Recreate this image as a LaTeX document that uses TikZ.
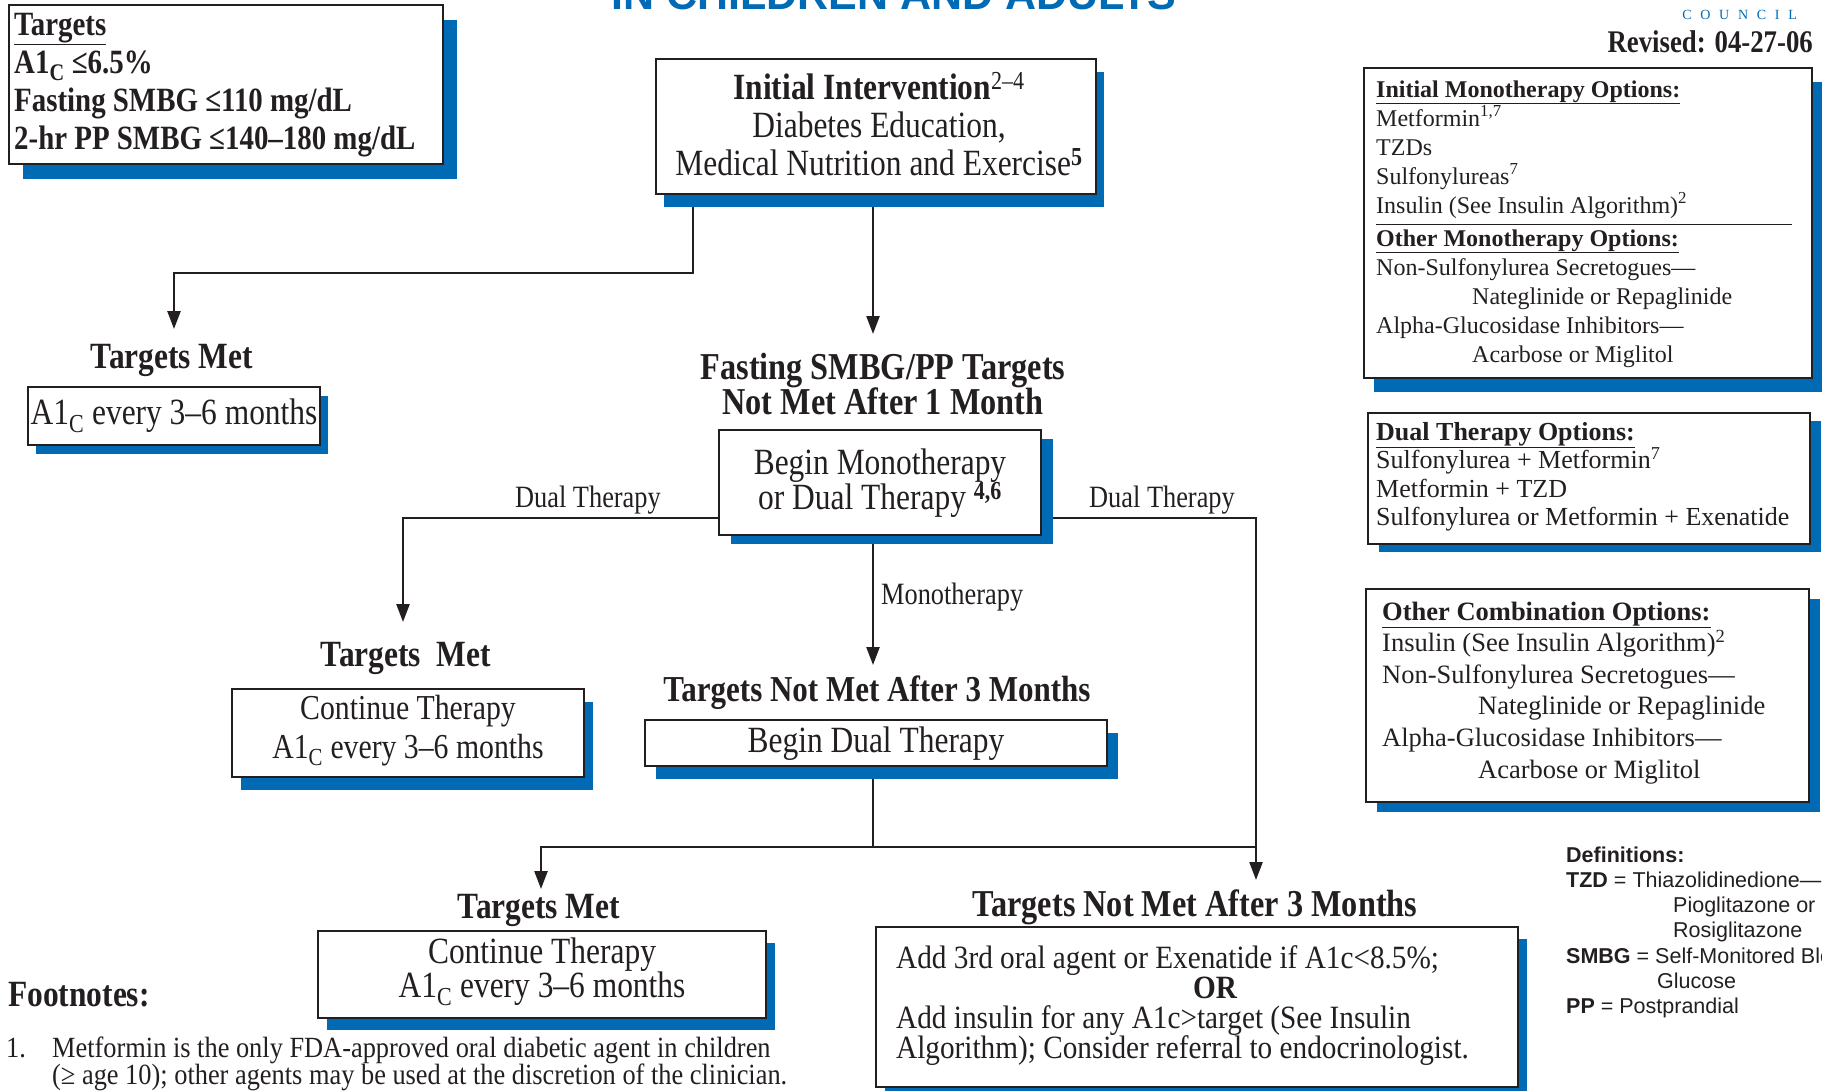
\documentclass[tikz,border=0pt]{standalone}
\usepackage{fontspec}
\setmainfont{Liberation Serif}
\setsansfont{Liberation Sans}
\newfontfamily\cnd[FakeStretch=0.85]{Liberation Serif}
\newfontfamily\cndw[FakeStretch=0.9]{Liberation Serif}
\usetikzlibrary{arrows.meta,shadows,calc}
\definecolor{ablue}{RGB}{0,106,180}
\definecolor{ink}{RGB}{35,31,32}
\newcommand\F[2]{\fontsize{#1}{#2}\selectfont}
\newcommand\Lft[1]{\vtop{\lineskiplimit=-100pt\halign{##\hfil\cr#1\crcr}}}
\newcommand\Ctr[1]{\vtop{\lineskiplimit=-100pt\halign{\hfil##\hfil\cr#1\crcr}}}
\pgfdeclarelayer{bg}
\pgfsetlayers{bg,main}
\begin{document}
\begin{tikzpicture}[x=1pt,y=-1pt,
  every node/.style={inner sep=0pt, text=ink},
  box/.style={draw=ink, line width=2.4pt, fill=white, inner sep=0pt},
  sh/.style 2 args={drop shadow={shadow xshift=#1pt, shadow yshift=-#2pt, fill=ablue, opacity=1}},
  arr/.style={draw=ink, line width=2.4pt, -{Triangle[length=18pt,width=13pt]}},
  ln/.style={draw=ink, line width=2.4pt},
  hd/.style={font=\cnd\bfseries\F{38}{35}, anchor=base},
  lbl/.style={font=\cnd\F{31}{31}, anchor=base}]
\useasboundingbox (0,0) rectangle (1822,1090);

% ---------- boxes ----------
\node[box, sh={14}{15}, minimum width=434pt, minimum height=159pt] (tgt) at (226,84.5) {};
\node[box, sh={8}{13}, minimum width=440pt, minimum height=135pt] (init) at (876,126.5) {};
\node[box, sh={8}{9}, minimum width=292pt, minimum height=58pt] (tm1b) at (174,416) {};
\node[box, sh={12}{9}, minimum width=322pt, minimum height=105pt] (bm) at (880,482.5) {};
\node[box, sh={9}{13}, minimum width=352pt, minimum height=88pt] (cont1) at (408,733) {};
\node[box, sh={11}{13}, minimum width=462pt, minimum height=46pt] (bdt) at (876,743) {};
\node[box, sh={9}{12}, minimum width=448pt, minimum height=87pt] (cont2) at (542,974.5) {};
\node[box, sh={9}{12}, minimum width=642pt, minimum height=160pt] (add) at (1197,1007) {};
\node[box, sh={10}{14}, minimum width=448pt, minimum height=310pt] (imo) at (1588,223) {};
\node[box, sh={11}{8}, minimum width=442pt, minimum height=131pt] (dual) at (1589,478.5) {};
\node[box, sh={11}{10}, minimum width=443pt, minimum height=213pt] (combo) at (1587.5,695.5) {};

% ---------- header ----------
\node[font=\sffamily\bfseries\F{43}{43}, text=ablue, anchor=base] (title) at (894,9) {IN CHILDREN AND ADULTS};
\node[font=\F{14}{14}, text=ablue, anchor=base east] (council) at (1797,19) {C\kern8.7pt O\kern8.7pt U\kern8.7pt N\kern8.7pt C\kern8.7pt I\kern8.7pt L};
\node[font=\cnd\bfseries\F{31.5}{32}, anchor=base east] (revised) at (1813,52) {Revised: 04-27-06};

% ---------- texts in boxes ----------
\node[font=\cnd\bfseries\F{34}{38}, anchor=base west] (tgtt) at (14,35)
  {\Lft{\underline{Targets}\cr A1\textsubscript{C} ≤6.5\%\cr Fasting SMBG ≤110 mg/dL\cr 2-hr PP SMBG ≤140–180 mg/dL}};
\node[font=\cnd\F{37}{38}, anchor=base] (initt) at (879,99)
  {\Ctr{{\bfseries Initial Intervention}\textsuperscript{2–4}\cr Diabetes Education,\cr Medical Nutrition and Exercise\textsuperscript{\bfseries 5}}};
\node[hd, font=\cnd\bfseries\F{37}{35}] (tm1) at (172,368) {Targets Met};
\node[font=\cnd\F{37}{37}, anchor=base] (tm1t) at (174,424) {A1\textsubscript{C} every 3–6 months};
\node[font=\cnd\bfseries\F{38}{35}, anchor=base] (fast) at (883,379)
  {\Ctr{Fasting SMBG/PP Targets\cr Not Met After 1 Month}};
\node[font=\cnd\F{37}{35}, anchor=base] (bmt) at (880,474)
  {\Ctr{Begin Monotherapy\cr or Dual Therapy \textsuperscript{\bfseries 4,6}}};
\node[lbl] (dlab) at (588,507) {Dual Therapy};
\node[lbl] (drlab) at (1162,507) {Dual Therapy};
\node[lbl, anchor=base west] (mlab) at (881,604) {Monotherapy};
\node[hd, font=\cnd\bfseries\F{37}{35}] (tm2) at (406,666) {Targets\ \ Met};
\node[font=\cnd\F{35}{39}, anchor=base] (cont1t) at (408,719)
  {\Ctr{Continue Therapy\cr A1\textsubscript{C} every 3–6 months}};
\node[hd, font=\cnd\bfseries\F{36.5}{35}] (tnm1) at (877,701) {Targets Not Met After 3 Months};
\node[font=\cnd\F{37}{37}, anchor=base] (bdtt) at (876,752) {Begin Dual Therapy};
\node[hd, font=\cnd\bfseries\F{37}{35}] (tm3) at (539,918) {Targets Met};
\node[font=\cnd\F{37}{34}, anchor=base] (cont2t) at (542,963)
  {\Ctr{Continue Therapy\cr A1\textsubscript{C} every 3–6 months}};
\node[hd] (tnm2) at (1195,916) {Targets Not Met After 3 Months};
\node[font=\cndw\F{32.5}{30.3}, anchor=base west] (addt) at (896,968)
  {\Lft{Add 3rd oral agent or Exenatide if A1c<8.5\%;\cr \hskip297pt\relax{\bfseries OR}\cr Add insulin for any A1c>target (See Insulin\cr Algorithm); Consider referral to endocrinologist.}};

% ---------- right column ----------
\node[font=\F{24}{29}, anchor=base west] (imot) at (1376,97)
  {\Lft{\underline{\bfseries Initial Monotherapy Options:}\cr
   Metformin\textsuperscript{1,7}\cr TZDs\cr Sulfonylureas\textsuperscript{7}\cr
   Insulin (See Insulin Algorithm)\textsuperscript{2}\cr\noalign{\vskip4pt}
   \underline{\bfseries Other Monotherapy Options:}\cr
   Non-Sulfonylurea Secretogues—\cr \hskip96pt\relax Nateglinide or Repaglinide\cr
   Alpha-Glucosidase Inhibitors—\cr \hskip96pt\relax Acarbose or Miglitol}};
\draw[draw=ink, line width=1pt] (1376,224) -- (1792,224);
\node[font=\F{26}{28.5}, anchor=base west] (dualt) at (1376,440)
  {\Lft{\underline{\bfseries Dual Therapy Options:}\cr
   Sulfonylurea + Metformin\textsuperscript{7}\cr Metformin + TZD\cr
   Sulfonylurea or Metformin + Exenatide}};
\node[font=\F{26.5}{31.6}, anchor=base west] (combot) at (1382,620)
  {\Lft{\underline{\bfseries Other Combination Options:}\cr
   Insulin (See Insulin Algorithm)\textsuperscript{2}\cr
   Non-Sulfonylurea Secretogues—\cr \hskip96pt\relax Nateglinide or Repaglinide\cr
   Alpha-Glucosidase Inhibitors—\cr \hskip96pt\relax Acarbose or Miglitol}};
\node[font=\sffamily\F{21.5}{25.3}, anchor=base west] (defs) at (1566,862)
  {\Lft{{\bfseries Definitions:}\cr
   {\bfseries TZD} = Thiazolidinedione—\cr \hskip107pt\relax Pioglitazone or\cr
   \hskip107pt\relax Rosiglitazone\cr {\bfseries SMBG} = Self-Monitored Blood\cr
   \hskip91pt\relax Glucose\cr {\bfseries PP} = Postprandial}};

% ---------- footnotes ----------
\node[font=\cnd\bfseries\F{37}{37}, anchor=base west] (fnh) at (8,1006) {Footnotes:};
\node[font=\cndw\F{29.3}{27.5}, anchor=base west] (fn1n) at (6,1057) {1.};
\node[font=\cndw\F{29.3}{27.5}, anchor=base west] (fn1) at (52,1057)
  {\Lft{Metformin is the only FDA-approved oral diabetic agent in children\cr
   (≥ age 10); other agents may be used at the discretion of the clinician.}};

% ---------- connectors ----------
\coordinate (j1) at (693,273);
\coordinate (tip1) at (174,329);
\coordinate (tip2) at (873,334);
\coordinate (dl) at (403,518);
\coordinate (tipdl) at (403,622);
\coordinate (tipdr) at (1256,880);
\coordinate (tipm) at (873,665);
\coordinate (jn) at (873,847);
\coordinate (tipb) at (541,889);
\begin{pgfonlayer}{bg}
\draw[arr] (init.south -| j1) -- (j1) -| (tip1);
\draw[arr] (init.south -| tip2) -- (tip2);
\draw[arr] (bm.west |- dl) -| (tipdl);
\draw[arr] (bm.east |- dl) -| (tipdr);
\draw[arr] (bm.south -| tipm) -- (tipm);
\draw[ln] (bdt.south -| jn) -- (jn) -- (jn -| tipdr);
\draw[arr] (jn) -| (tipb);
\end{pgfonlayer}
\end{tikzpicture}
\end{document}
